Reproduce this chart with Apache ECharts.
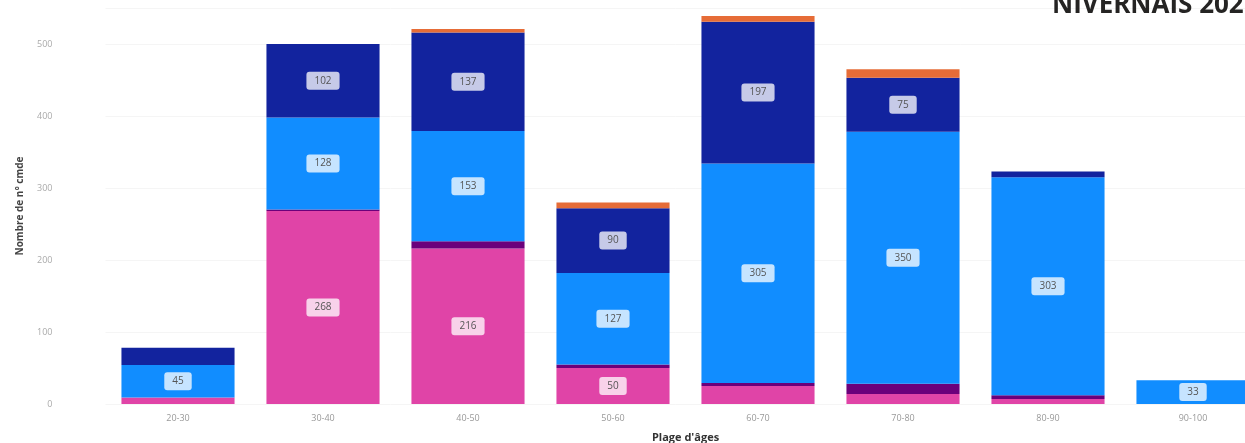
<!DOCTYPE html>
<html>
<head>
<meta charset="utf-8">
<script src="https://cdn.jsdelivr.net/npm/echarts@6/dist/echarts.min.js"></script>
<style>
html,body{margin:0;padding:0;background:#fff;}
#chart{width:1245px;height:443px;}
</style>
</head>
<body>
<div id="chart"></div>
<script>
const categories = ['20-30','30-40','40-50','50-60','60-70','70-80','80-90','90-100'];
const seriesNames = ['Série A','Série B','Série C','Série D','Série E'];
const pinkValues   = [9, 268, 216, 50, 25, 14, 7, 0];
const purpleValues = [0, 2, 10, 5, 4, 14, 5, 0];
const blueValues   = [45, 128, 153, 127, 305, 350, 303, 33];
const navyValues   = [24, 102, 137, 90, 197, 75, 8, 0];
const orangeValues = [0, 0, 5, 8, 8, 12, 0, 0];
const yTicks = [0, 100, 200, 300, 400, 500];

const colors = ['#E044A7', '#6B007B', '#118DFF', '#12239E', '#E66C37'];
const allValues = [pinkValues, purpleValues, blueValues, navyValues, orangeValues];

const chart = echarts.init(document.getElementById('chart'), null, {renderer: 'canvas'});
const labelStyle = {
  show: true,
  position: 'inside',
  color: '#555',
  fontSize: 10,
  fontFamily: 'Open Sans, sans-serif',
  backgroundColor: 'rgba(255,255,255,0.76)',
  borderRadius: 3,
  padding: [4, 8]
};
chart.setOption({
  animation: false,
  title: {
    text: 'NIVERNAIS 202',
    left: 1047,
    top: -12,
    textStyle: {fontSize: 26, fontWeight: 'bold', color: '#252423', fontFamily: 'Open Sans, sans-serif'}
  },
  grid: {left: 105.5, width: 1160, top: 8, bottom: 39, containLabel: false, outerBoundsMode: 'none'},
  xAxis: {
    type: 'category',
    data: categories,
    name: "Plage d'âges",
    nameLocation: 'middle',
    nameGap: 28,
    nameTextStyle: {fontSize: 11, fontWeight: 'bold', color: '#333', fontFamily: 'Open Sans, sans-serif'},
    axisLine: {show: false},
    axisTick: {show: false},
    axisLabel: {color: '#999', fontSize: 9, margin: 10, fontFamily: 'Open Sans, sans-serif'}
  },
  yAxis: {
    type: 'value',
    min: 0,
    max: 550,
    interval: 100,
    name: 'Nombre de n° cmde',
    nameLocation: 'middle',
    nameGap: 80,
    nameTextStyle: {fontSize: 10, fontWeight: 'bold', color: '#444', fontFamily: 'Open Sans, sans-serif'},
    axisLine: {show: false},
    axisTick: {show: false},
    axisLabel: {
      color: '#aaa', fontSize: 9, margin: 53, showMaxLabel: false,
      fontFamily: 'Open Sans, sans-serif',
      formatter: v => (yTicks.indexOf(v) >= 0 ? String(v) : '')
    },
    splitLine: {show: true, lineStyle: {color: '#f5f5f5', width: 1}}
  },
  series: allValues.map((vals, i) => ({
    name: seriesNames[i],
    type: 'bar',
    stack: 'total',
    data: vals.map(v => ({value: v, label: {show: v >= 30}})),
    barCategoryGap: '22%',
    itemStyle: {color: colors[i]},
    label: labelStyle
  }))
});
</script>
</body>
</html>
